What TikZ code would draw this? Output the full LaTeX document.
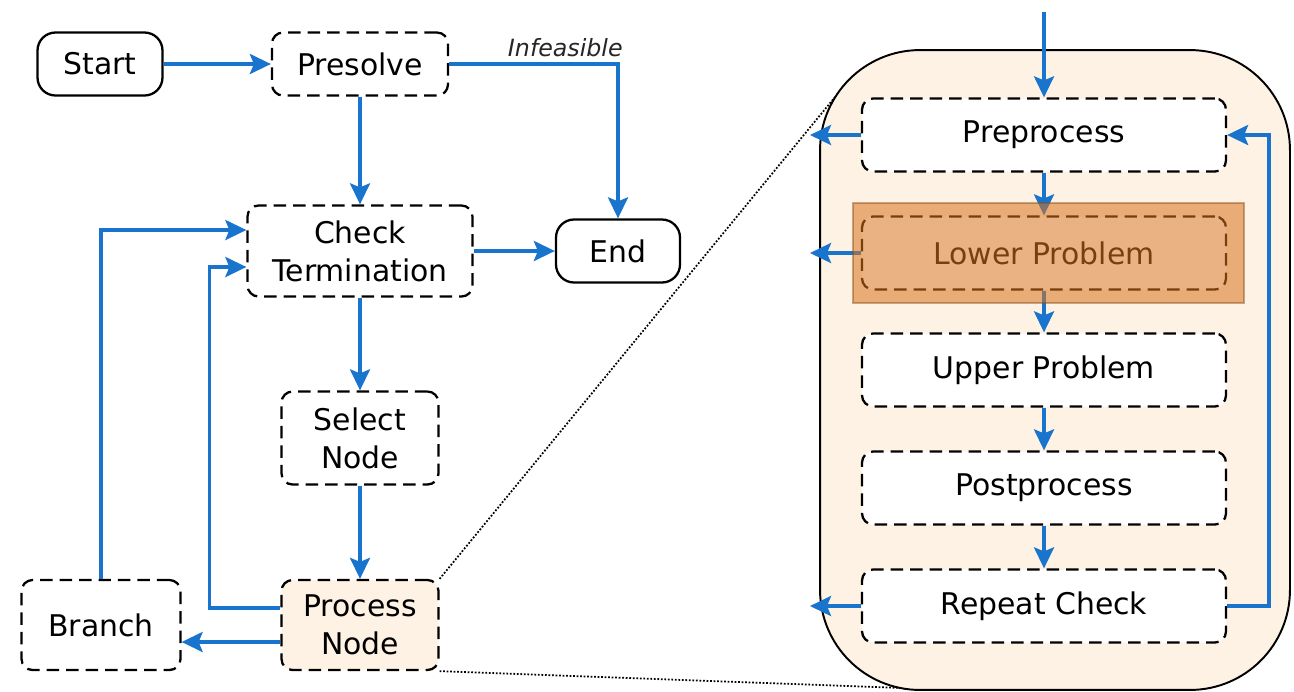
\documentclass[tikz,border=0pt]{standalone}
\usepackage{fontspec}
\setmainfont{DejaVu Sans}
\usepackage{tikz}
\usetikzlibrary{positioning,arrows.meta}
\definecolor{cBlue}{HTML}{1874CD}
\definecolor{cCream}{HTML}{FEF2E4}
\definecolor{cOrange}{HTML}{DA741D}
\tikzset{
  term/.style={draw=black, line width=1.3pt, rounded corners=0.36cm, fill=white,
              align=center, inner sep=0pt, font=\fontsize{17}{21.5}\selectfont},
  stepbox/.style={term, dash pattern=on 0.25cm off 0.14cm, rounded corners=0.22cm},
  sub/.style={stepbox, minimum width=7.28cm, minimum height=1.46cm},
  ar/.style={-{Stealth[length=0.42cm,width=0.4cm,inset=0.08cm]}, cBlue, line width=2pt},
  tag/.style={font=\fontsize{13.5}{16}\selectfont\itshape, text=black!85}
}

\begin{document}
\begin{tikzpicture}[x=0.02cm, y=-0.02cm]
\useasboundingbox (0,0) rectangle (1294,691);
% main loop
\node[term, minimum width=2.5cm, minimum height=1.26cm] (startnode) at (100,64) {Start};
\node[stepbox, minimum width=3.52cm, minimum height=1.26cm] (presolve) at (360,64) {Presolve};
\node[stepbox, minimum width=4.5cm, minimum height=1.82cm] (check) at (360,251) {Check\\Termination};
\node[term, minimum width=2.48cm, minimum height=1.26cm] (endnode) at (618,251) {End};
\node[stepbox, minimum width=3.14cm, minimum height=1.86cm] (select) at (360,438) {Select\\Node};
\node[stepbox, fill=cCream, minimum width=3.14cm, minimum height=1.8cm] (process) at (360,625) {Process\\Node};
\node[stepbox, minimum width=3.18cm, minimum height=1.8cm] (branch) at (101,625) {Branch};
\draw[ar] (startnode) -- (presolve);
\draw[ar] (presolve) -- (check);
\draw[ar] (presolve.east) -| node[tag, above, pos=0.344]{Infeasible} (endnode.north);
\draw[ar] (check) -- (endnode);
\draw[ar] (check) -- (select);
\draw[ar] (select) -- (process);
\draw[ar] ([yshift=-0.34cm]process.west) -- ([yshift=-0.34cm]branch.east);
\draw[ar] ([yshift=0.34cm]process.west) -- ++(-71,0) |- ([yshift=-0.32cm]check.west);
\draw[ar] (branch.north) |- ([yshift=0.42cm]check.west);
% zoomed view of process node
\node[draw=black, line width=1.1pt, fill=cCream, rounded corners=2cm,
      minimum width=9.4cm, minimum height=12.8cm] (panel) at (1055,370) {};
\coordinate (zoomA) at (835,97);
\coordinate (zoomB) at (903,688);
\draw[densely dotted, line width=1pt] (process.north east) -- (zoomA);
\draw[densely dotted, line width=1pt] (process.south east) -- (zoomB);
\node[sub] (pre) at (1044,135) {Preprocess};
\node[sub] (low) at (1044,253) {Lower Problem};
\node[sub] (up) at (1044,370) {Upper Problem};
\node[sub] (post) at (1044,488) {Postprocess};
\node[sub] (rep) at (1044,606) {Repeat Check};
\coordinate (entry) at (1044,12);
\coordinate (preout) at (810,135);
\coordinate (lowout) at (810,253);
\coordinate (repout) at (810,606);
\draw[ar] (entry) -- (pre);
\foreach \a/\b in {pre/low,low/up,up/post,post/rep}
  \draw[ar] (\a) -- (\b);
\draw[ar] (pre.west) -- (preout);
\draw[ar] (low.west) -- (lowout);
\draw[ar] (rep.west) -- (repout);
\draw[ar] (rep.east) -- ++(42,0) |- (pre.east);
% highlight on lower problem
\fill[cOrange, fill opacity=0.55] (853,203) rectangle (1244,303);
\draw[cOrange!60!black, draw opacity=0.45, line width=0.6pt] (853,203) rectangle (1244,303);
\end{tikzpicture}
\end{document}
